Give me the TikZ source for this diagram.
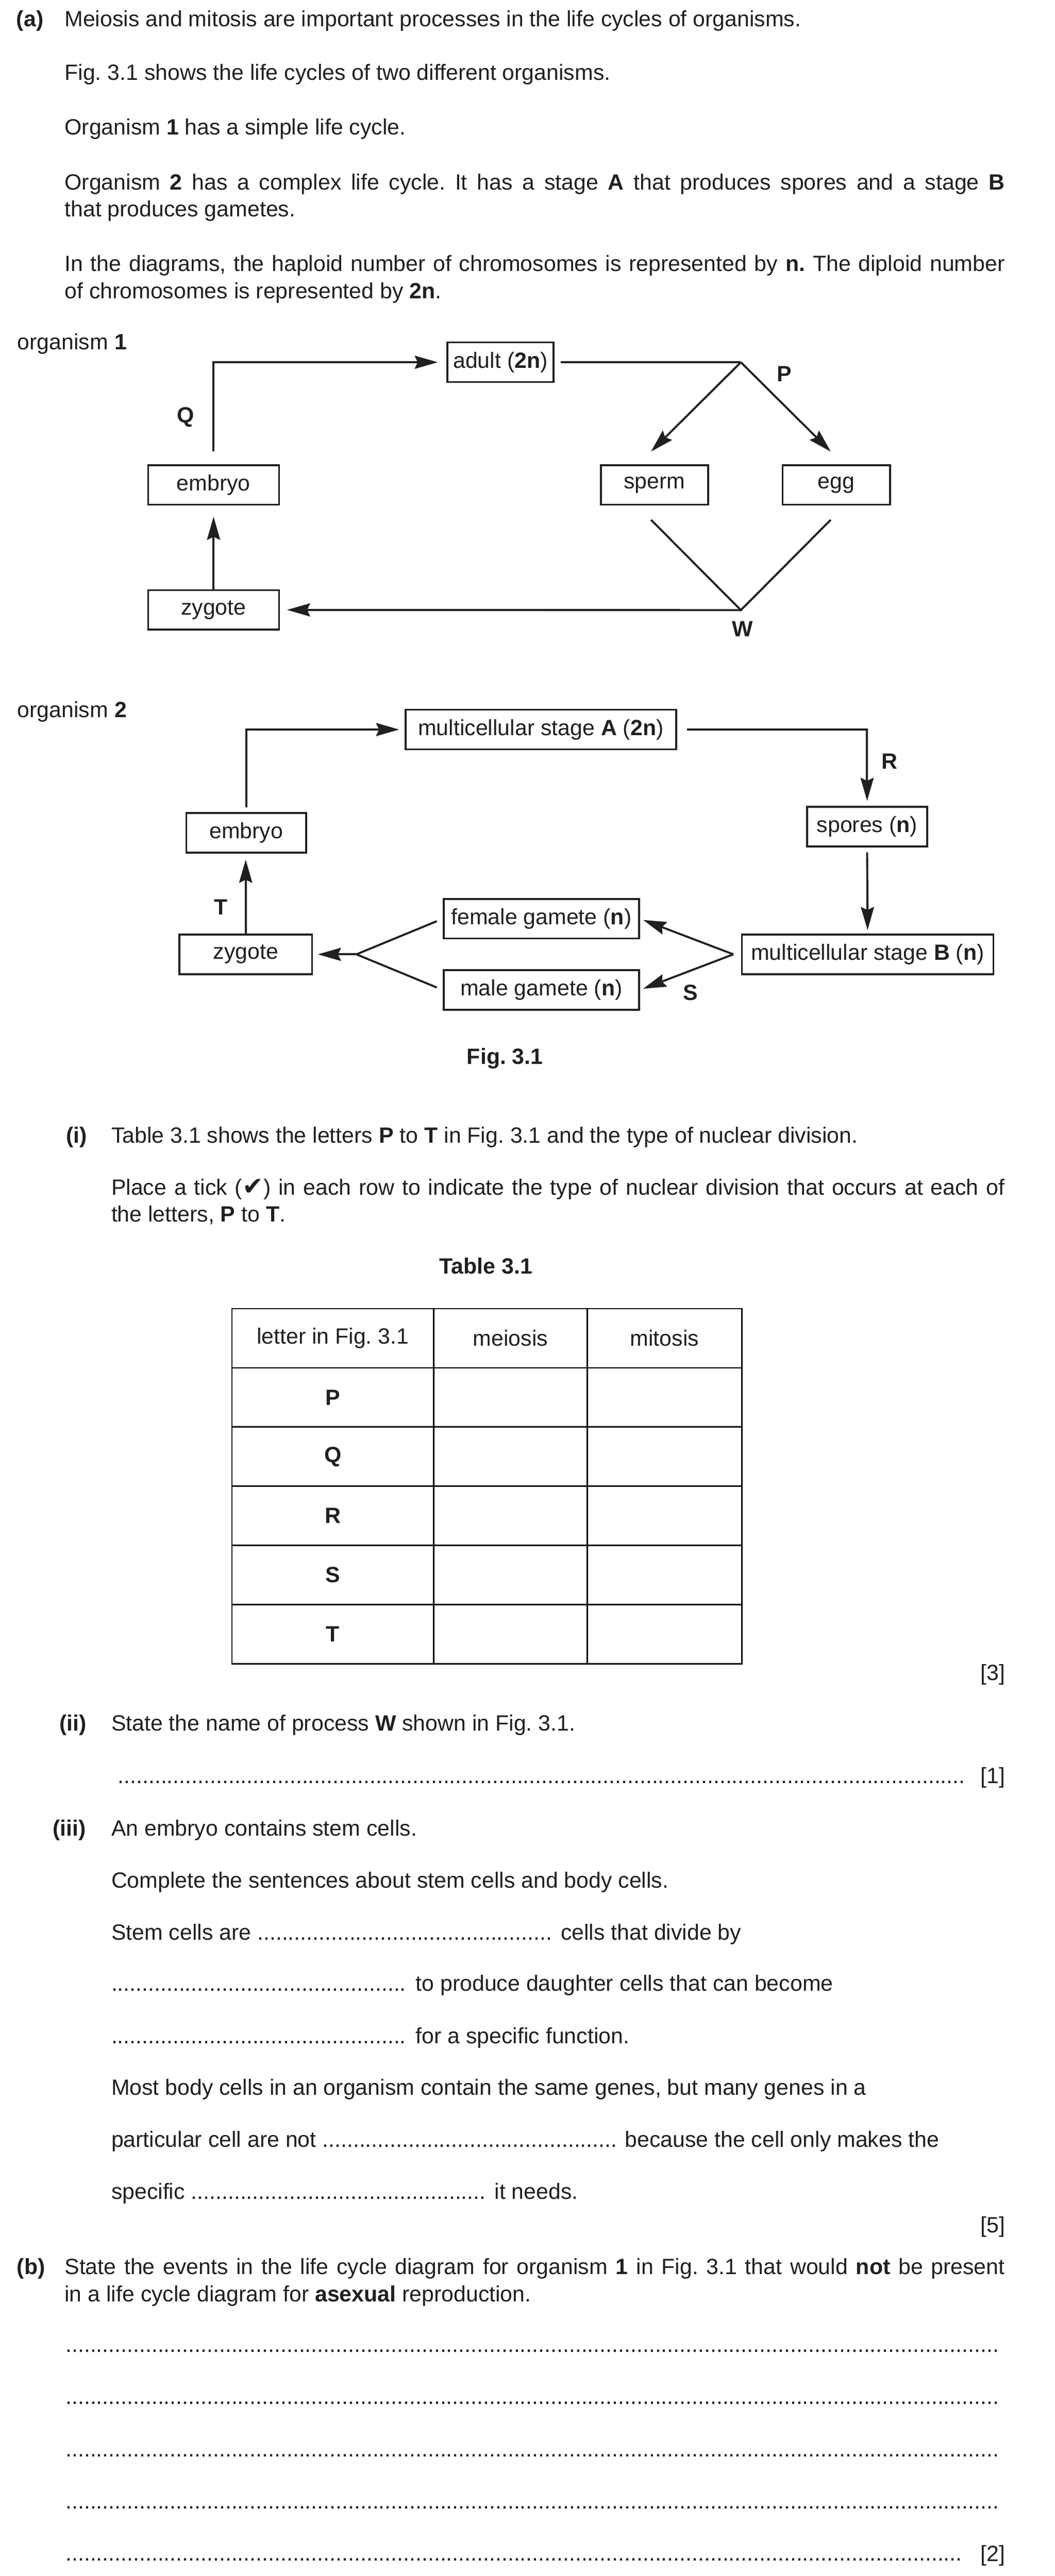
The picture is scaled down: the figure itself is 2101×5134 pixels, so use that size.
\documentclass[tikz,border=0pt]{standalone}
\usepackage{fontspec}
\setmainfont{Liberation Sans}
\newfontfamily\tickfont{DejaVu Sans}
\usepackage{xcolor}
\usepackage{tikz}
\usetikzlibrary{arrows.meta,matrix,positioning}
\definecolor{ink}{HTML}{231F20}
\frenchspacing
\newcommand{\dotgap}[1]{\hbox to #1{\leaders\hbox{.}\hfill}}
\newcommand{\fullline}[2]{\makebox[#1][s]{#2}}

\begin{document}
\begin{tikzpicture}[
    x=0.25pt, y=-0.25pt,
    color=ink,
    every node/.style={font=\fontsize{11}{13}\selectfont},
    txt/.style={anchor=base west, inner sep=0},
    tally/.style={anchor=base east, inner sep=0},
    divletter/.style={anchor=base west, inner sep=0, font=\fontsize{11}{13}\selectfont\bfseries},
    caption/.style={anchor=base, inner sep=0, font=\fontsize{11}{13}\selectfont\bfseries},
    stagebox/.style={draw, line width=0.9pt, minimum height=19.75pt, inner sep=0},
    link/.style={line width=1pt},
    flow/.style={link, -{Stealth[length=11.5pt, width=6.5pt, inset=1.5pt]}},
    table/.style={
        matrix of nodes,
        inner sep=0pt,
        row sep=-0.7pt,
        column sep=-0.7pt,
        nodes in empty cells,
        nodes={draw, line width=0.7pt, minimum height=29.5pt, inner sep=0pt, anchor=center},
    column 1/.style={nodes={minimum width=100.5pt}},
    column 2/.style={nodes={minimum width=76.5pt}},
    column 3/.style={nodes={minimum width=77pt}}   }]
\path[use as bounding box, fill=white] (0,0) rectangle (2101,5134);

% part (a) stem
\node[txt, font=\fontsize{11}{13}\selectfont\bfseries] (qa) at (32,53) {(a)};
\node[txt] (a1) at (128,53) {Meiosis and mitosis are important processes in the life cycles of organisms.};
\node[txt] (a2) at (128,160) {Fig. 3.1 shows the life cycles of two different organisms.};
\node[txt] (a3) at (128,269) {Organism \textbf{1} has a simple life cycle.};
\node[txt] (a4) at (128,378) {\fullline{468.25pt}{Organism \textbf{2} has a complex life cycle. It has a stage \textbf{A} that produces spores and a stage \textbf{B}}};
\node[txt] (a5) at (128,432) {that produces gametes.};
\node[txt] (a6) at (128,541) {\fullline{468.25pt}{In the diagrams, the haploid number of chromosomes is represented by \textbf{n.} The diploid number}};
\node[txt] (a7) at (128,595) {of chromosomes is represented by \textbf{2n}.};

% organism 1
\node[txt] (org1) at (34,697) {organism \textbf{1}};
\node[stagebox, minimum width=53pt] (adult1) at (997,722) {adult (\textbf{2n})};
\node[stagebox, minimum width=65.25pt] (embryo1) at (425.5,966.5) {embryo};
\node[stagebox, minimum width=65.25pt] (zygote1) at (425.5,1215.5) {zygote};
\node[stagebox, minimum width=53.5pt] (sperm1) at (1304,966.5) {sperm};
\node[stagebox, minimum width=53.5pt] (egg1) at (1666,966.5) {egg};

\coordinate (meioj) at (1476,722);
\coordinate (fertj) at (1476,1216);
\coordinate (spermin) at (1297,900);
\coordinate (eggin) at (1655,900);
\coordinate (spermout) at (1297,1036);
\coordinate (eggout) at (1655,1036);

\draw[flow, shorten <=6.5pt, shorten >=4.25pt] (embryo1.north) |- (adult1.west);
\draw[link, shorten <=3pt] (adult1.east) -- (meioj);
\draw[flow] (meioj) -- (spermin);
\draw[flow] (meioj) -- (eggin);
\draw[link] (spermout) -- (fertj) -- (eggout);
\draw[flow, shorten >=3.5pt] (fertj) -- (zygote1.east);
\draw[flow, shorten >=5.5pt] (zygote1.north) -- (embryo1.south);

\node[divletter] (labP) at (1547,760) {P};
\node[divletter] (labQ) at (352,843) {Q};
\node[divletter] (labW) at (1458,1269) {W};

% organism 2
\node[txt] (org2) at (34,1430) {organism \textbf{2}};
\node[stagebox, minimum width=134.75pt] (stageA) at (1077.5,1454) {multicellular stage \textbf{A} (\textbf{2n})};
\node[stagebox, minimum width=59.75pt] (spores2) at (1727.5,1647.5) {spores (\textbf{n})};
\node[stagebox, minimum width=125.25pt] (stageB) at (1728.5,1902) {multicellular stage \textbf{B} (\textbf{n})};
\node[stagebox, minimum width=59.75pt] (embryo2) at (490.5,1660) {embryo};
\node[stagebox, minimum width=66pt] (zygote2) at (489.5,1902) {zygote};
\node[stagebox, minimum width=97.25pt] (female2) at (1078.5,1831) {female gamete (\textbf{n})};
\node[stagebox, minimum width=97.25pt] (male2) at (1078.5,1973) {male gamete (\textbf{n})};

\coordinate (gametej) at (1461,1902);
\coordinate (fusej) at (710,1902);

\draw[flow, shorten <=2.5pt, shorten >=2.75pt] (embryo2.north) |- (stageA.west);
\draw[flow, shorten <=5pt, shorten >=2.5pt] (stageA.east) -| (spores2.north);
\draw[flow, shorten <=2.5pt, shorten >=1.75pt] (spores2.south) -- (stageB.north);
\draw[flow, shorten >=1.75pt] (gametej) -- (female2.east);
\draw[flow, shorten >=1.75pt] (gametej) -- (male2.east);
\draw[link, shorten <=3.25pt] (female2.west) -- (fusej);
\draw[link, shorten <=3.25pt] (male2.west) -- (fusej);
\draw[flow, shorten >=2.5pt] (fusej) -- (zygote2.east);
\draw[flow, shorten >=3pt] (zygote2.north) -- (zygote2.north |- embryo2.south);

\node[divletter] (labR) at (1755,1532) {R};
\node[divletter] (labT) at (426,1823) {T};
\node[divletter] (labS) at (1360,1994) {S};

\node[caption] (fig31) at (1006,2121) {Fig. 3.1};

% part (i)
\node[txt, font=\fontsize{11}{13}\selectfont\bfseries] (qi) at (131,2278) {(i)};
\node[txt] (i1) at (221,2278) {Table 3.1 shows the letters \textbf{P} to \textbf{T} in Fig. 3.1 and the type of nuclear division.};
\node[txt] (i2) at (221,2382) {\fullline{445pt}{Place a tick ({\tickfont\fontsize{12.5}{13}\selectfont ✔}) in each row to indicate the type of nuclear division that occurs at each of}};
\node[txt] (i3) at (221,2435) {the letters, \textbf{P} to \textbf{T}.};
\node[caption] (tab31) at (968,2539) {Table 3.1};

\matrix (divtable) [table, ampersand replacement=\&] at (970,2962) {
 letter in Fig. 3.1 \& meiosis \& mitosis \\
 \textbf{P} \& \& \\
 \textbf{Q} \& \& \\
 \textbf{R} \& \& \\
 \textbf{S} \& \& \\
 \textbf{T} \& \& \\
};
\node[tally] (m3) at (2003,3349) {[3]};

% part (ii)
\node[txt, font=\fontsize{11}{13}\selectfont\bfseries] (qii) at (118,3449) {(ii)};
\node[txt] (ii1) at (221,3449) {State the name of process \textbf{W} shown in Fig. 3.1.};
\node[txt] (ii2) at (234,3554) {\dotgap{422pt}};
\node[tally] (m1) at (2003,3554) {[1]};

% part (iii)
\node[txt, font=\fontsize{11}{13}\selectfont\bfseries] (qiii) at (104,3659) {(iii)};
\node[txt] (iii1) at (221,3659) {An embryo contains stem cells.};
\node[txt] (iii2) at (221,3763) {Complete the sentences about stem cells and body cells.};
\node[txt] (iii3) at (221,3866) {Stem cells are \dotgap{148pt} cells that divide by};
\node[txt] (iii4) at (221,3968) {\dotgap{148.5pt} to produce daughter cells that can become};
\node[txt] (iii5) at (221,4073) {\dotgap{148.5pt} for a specific function.};
\node[txt] (iii6) at (221,4175) {Most body cells in an organism contain the same genes, but many genes in a};
\node[txt] (iii7) at (221,4279) {particular cell are not \dotgap{147.5pt} because the cell only makes the};
\node[txt] (iii8) at (221,4383) {specific \dotgap{148pt} it needs.};
\node[tally] (m5) at (2003,4450) {[5]};

% part (b)
\node[txt, font=\fontsize{11}{13}\selectfont\bfseries] (qb) at (33,4533) {(b)};
\node[txt] (b1) at (128,4533) {\fullline{468.25pt}{State the events in the life cycle diagram for organism \textbf{1} in Fig. 3.1 that would \textbf{not} be present}};
\node[txt] (b2) at (128,4587) {in a life cycle diagram for \textbf{asexual} reproduction.};
\foreach \ly [count=\k] in {4688,4792,4896,5000}
    \node[txt] (bline\k) at (130,\ly) {\dotgap{466.75pt}};
\node[txt] (bline5) at (130,5104) {\dotgap{447.25pt}};
\node[tally] (m2) at (2003,5105) {[2]};

\end{tikzpicture}
\end{document}
